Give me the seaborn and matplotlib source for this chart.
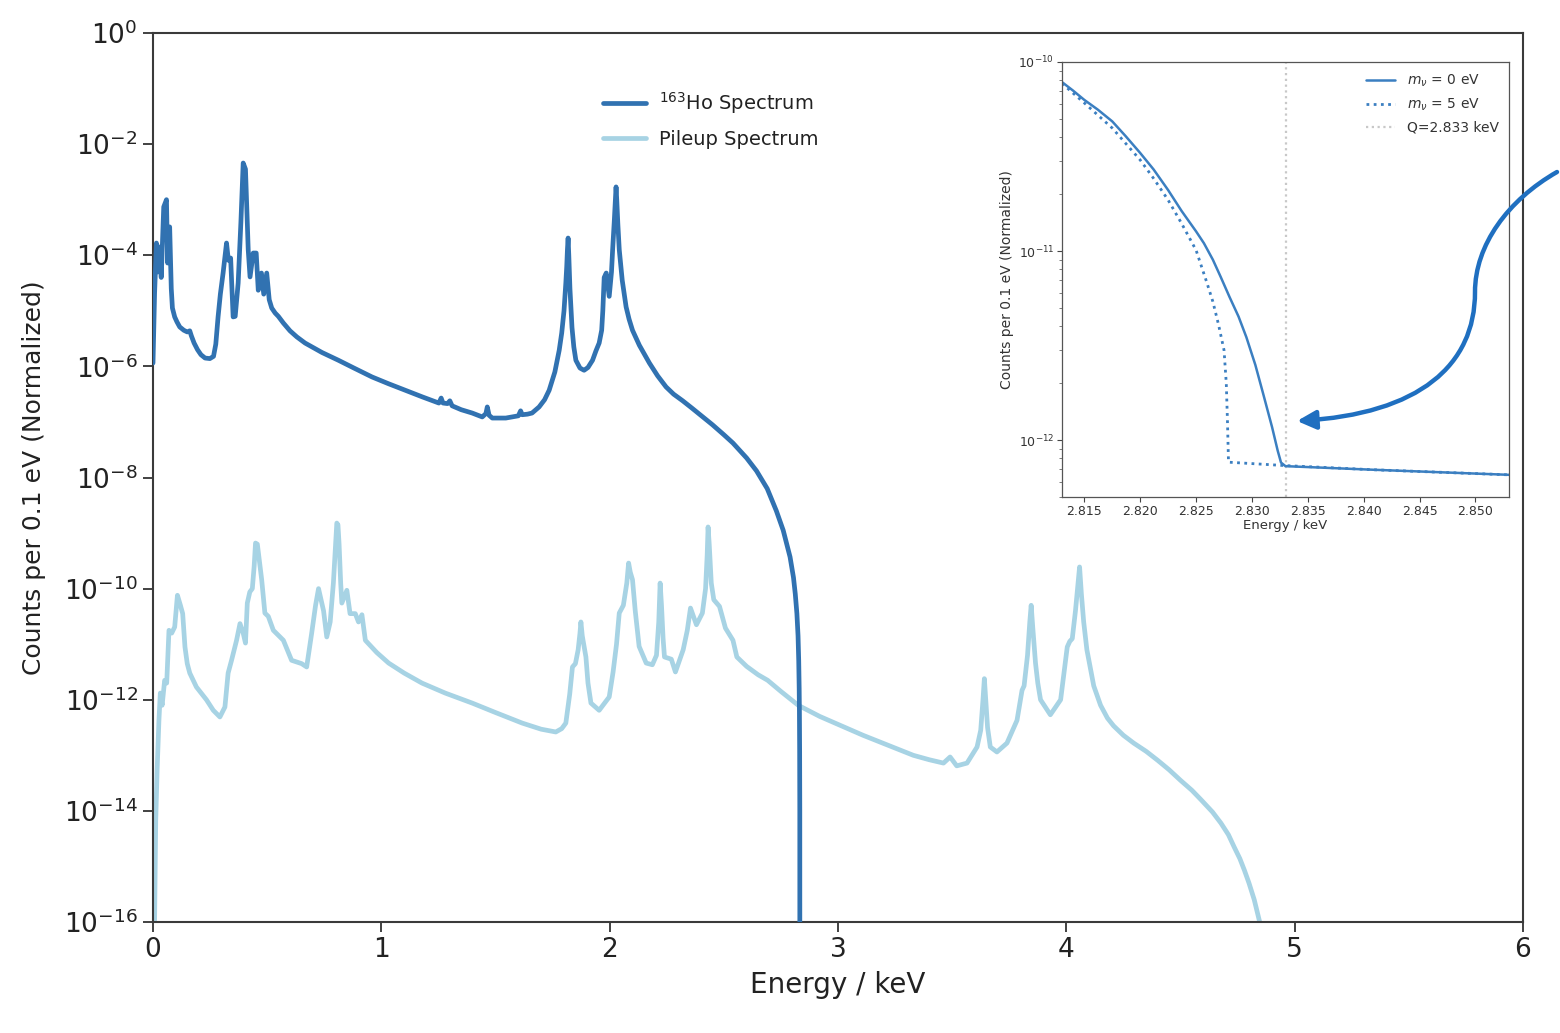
import numpy as np
import pandas as pd
import matplotlib
matplotlib.use("Agg")
import matplotlib.pyplot as plt
import matplotlib.ticker as mticker
import seaborn as sns
from matplotlib.path import Path
from matplotlib.patches import FancyArrowPatch

# ---------------- data ----------------
ho_energy_kev = [0.0, 0.007, 0.015, 0.022, 0.029, 0.036, 0.047, 0.059, 0.064, 0.073,
                 0.080, 0.085, 0.095, 0.105, 0.117, 0.135, 0.150, 0.161, 0.168, 0.180,
                 0.195, 0.210, 0.228, 0.249, 0.265, 0.275, 0.285, 0.295,
                 0.307, 0.322, 0.330, 0.340, 0.351, 0.360, 0.373, 0.385, 0.395, 0.405,
                 0.417, 0.425, 0.439, 0.452, 0.461, 0.475, 0.485, 0.498, 0.509, 0.520,
                 0.535, 0.549, 0.571, 0.600, 0.630, 0.666, 0.740, 0.812, 0.880, 0.959,
                 1.030, 1.105, 1.180, 1.252, 1.262, 1.270, 1.290, 1.300, 1.310, 1.350,
                 1.398, 1.442, 1.458, 1.464, 1.472, 1.486, 1.545, 1.600, 1.610, 1.617,
                 1.640, 1.660, 1.691, 1.715, 1.735, 1.760, 1.779, 1.790, 1.800, 1.808,
                 1.812, 1.815, 1.818, 1.821, 1.826, 1.835, 1.843, 1.852, 1.870, 1.888,
                 1.905, 1.925, 1.940, 1.954, 1.965, 1.970, 1.976, 1.985, 1.998, 2.008,
                 2.013, 2.020, 2.025, 2.028, 2.031, 2.036, 2.042, 2.055, 2.072, 2.085,
                 2.100, 2.130, 2.174, 2.210, 2.247, 2.280, 2.320, 2.360, 2.393, 2.450,
                 2.500, 2.540, 2.600, 2.643, 2.690, 2.730, 2.760, 2.790, 2.805, 2.813,
                 2.820, 2.825, 2.828, 2.830, 2.831, 2.832, 2.8327, 2.833]
ho_log10_counts = [-5.94, -4.68, -3.78, -4.30, -3.85, -4.40, -3.13, -3.00, -4.14, -3.49,
                   -4.60, -4.95, -5.11, -5.20, -5.29, -5.35, -5.38, -5.36, -5.45, -5.58,
                   -5.70, -5.79, -5.85, -5.86, -5.82, -5.60, -5.11, -4.70,
                   -4.32, -3.78, -4.09, -4.05, -5.11, -5.10, -4.50, -3.40, -2.34, -2.45,
                   -3.90, -4.39, -3.96, -3.96, -4.63, -4.32, -4.70, -4.32, -4.80, -4.95,
                   -5.04, -5.10, -5.22, -5.36, -5.47, -5.58, -5.75, -5.89, -6.03, -6.19,
                   -6.31, -6.43, -6.55, -6.66, -6.57, -6.66, -6.67, -6.62, -6.71, -6.78,
                   -6.84, -6.91, -6.85, -6.73, -6.88, -6.93, -6.93, -6.89, -6.80, -6.87,
                   -6.86, -6.84, -6.73, -6.60, -6.43, -6.10, -5.71, -5.40, -5.00, -4.50,
                   -4.20, -3.90, -3.69, -4.00, -4.60, -5.30, -5.65, -5.89, -6.03, -6.07,
                   -6.02, -5.89, -5.72, -5.58, -5.35, -5.00, -4.40, -4.32, -4.74, -4.30,
                   -3.90, -3.40, -3.00, -2.77, -3.00, -3.45, -3.90, -4.45, -4.93, -5.15,
                   -5.35, -5.62, -5.94, -6.17, -6.37, -6.50, -6.62, -6.75, -6.86, -7.05,
                   -7.23, -7.38, -7.65, -7.88, -8.20, -8.60, -8.95, -9.43, -9.80, -10.10,
                   -10.45, -10.85, -11.30, -11.80, -12.20, -12.90, -14.00, -20.0]

pileup_energy_kev = [0.0, 0.007, 0.012, 0.018, 0.026, 0.032, 0.040, 0.051, 0.060, 0.070,
                     0.082, 0.095, 0.107, 0.120, 0.130, 0.140, 0.150, 0.161, 0.190, 0.234,
                     0.264, 0.293, 0.315, 0.329, 0.344, 0.366, 0.381, 0.395, 0.405, 0.413,
                     0.424, 0.435, 0.443, 0.449, 0.457, 0.466, 0.476, 0.490, 0.505, 0.527,
                     0.571, 0.607, 0.651, 0.673, 0.695, 0.712, 0.725, 0.747, 0.761, 0.776,
                     0.790, 0.800, 0.805, 0.810, 0.815, 0.822, 0.827, 0.849, 0.863, 0.886,
                     0.900, 0.915, 0.930, 0.980, 1.032, 1.100, 1.178, 1.280, 1.398, 1.500,
                     1.617, 1.700, 1.764, 1.790, 1.808, 1.825, 1.837, 1.850, 1.862, 1.870,
                     1.874, 1.880, 1.896, 1.905, 1.918, 1.954, 1.998, 2.015, 2.030, 2.042,
                     2.060, 2.075, 2.083, 2.090, 2.100, 2.112, 2.129, 2.160, 2.187, 2.205,
                     2.215, 2.221, 2.227, 2.234, 2.240, 2.270, 2.288, 2.322, 2.340, 2.354,
                     2.380, 2.406, 2.420, 2.427, 2.431, 2.436, 2.445, 2.456, 2.481, 2.507,
                     2.540, 2.557, 2.600, 2.650, 2.692, 2.750, 2.826, 2.920, 3.026, 3.110,
                     3.196, 3.330, 3.400, 3.462, 3.491, 3.520, 3.565, 3.609, 3.625, 3.635,
                     3.641, 3.647, 3.655, 3.667, 3.696, 3.740, 3.784, 3.806, 3.815, 3.830,
                     3.840, 3.846, 3.853, 3.865, 3.875, 3.887, 3.930, 3.975, 4.004, 4.015,
                     4.026, 4.040, 4.050, 4.058, 4.066, 4.076, 4.090, 4.106, 4.120, 4.150,
                     4.180, 4.207, 4.250, 4.295, 4.350, 4.400, 4.450, 4.500, 4.550, 4.590,
                     4.640, 4.677, 4.710, 4.735, 4.760, 4.780, 4.800, 4.823, 4.845, 4.870]
pileup_log10_counts = [-16.5, -15.97, -14.17, -13.27, -12.37, -11.88, -12.10, -11.65, -11.70, -10.75,
                       -10.80, -10.69, -10.12, -10.30, -10.45, -11.05, -11.35, -11.52, -11.77, -12.00,
                       -12.19, -12.31, -12.13, -11.52, -11.29, -10.93, -10.63, -10.80, -10.98, -10.26,
                       -10.06, -10.00, -9.60, -9.18, -9.20, -9.50, -9.84, -10.44, -10.50, -10.75,
                       -10.93, -11.29, -11.35, -11.41, -10.80, -10.30, -10.00, -10.40, -10.87, -10.60,
                       -9.90, -9.20, -8.82, -8.85, -9.20, -9.90, -10.26, -10.03, -10.45, -10.45,
                       -10.60, -10.47, -10.93, -11.15, -11.34, -11.52, -11.70, -11.88, -12.06, -12.23,
                       -12.42, -12.53, -12.58, -12.52, -12.42, -11.90, -11.41, -11.35, -11.10, -10.80,
                       -10.60, -10.85, -11.23, -11.70, -12.06, -12.19, -11.95, -11.50, -11.00, -10.44,
                       -10.30, -9.90, -9.54, -9.70, -9.84, -10.40, -11.04, -11.34, -11.37, -11.20,
                       -10.60, -9.90, -10.30, -10.90, -11.23, -11.27, -11.50, -11.10, -10.75, -10.35,
                       -10.65, -10.44, -10.00, -9.40, -8.89, -9.20, -9.90, -10.20, -10.32, -10.71,
                       -10.93, -11.23, -11.40, -11.55, -11.65, -11.85, -12.10, -12.30, -12.49, -12.64,
                       -12.78, -13.00, -13.08, -13.14, -13.03, -13.19, -13.14, -12.85, -12.55, -12.00,
                       -11.62, -12.00, -12.50, -12.85, -12.94, -12.78, -12.37, -11.83, -11.75, -11.20,
                       -10.60, -10.30, -10.70, -11.34, -11.70, -12.00, -12.27, -12.00, -11.05, -10.95,
                       -10.90, -10.40, -9.95, -9.61, -10.10, -10.60, -11.10, -11.45, -11.75, -12.10,
                       -12.33, -12.47, -12.64, -12.78, -12.93, -13.09, -13.26, -13.45, -13.63, -13.80,
                       -14.02, -14.22, -14.43, -14.65, -14.86, -15.07, -15.30, -15.60, -15.97, -16.40]

inset_energy_m0 = [2.8130, 2.8140, 2.8150, 2.8162, 2.8175, 2.8187, 2.8200, 2.8212, 2.8225,
                   2.8237, 2.8250, 2.8257, 2.8265, 2.8272, 2.8280, 2.8288, 2.8295, 2.8303,
                   2.8310, 2.8318, 2.8323, 2.8326, 2.8330, 2.8408, 2.8530]
inset_counts_m0 = [7.83e-11, 7.05e-11, 6.3e-11, 5.6e-11, 4.85e-11, 4.05e-11, 3.3e-11, 2.7e-11,
                   2.1e-11, 1.63e-11, 1.27e-11, 1.1e-11, 9.0e-12, 7.3e-12, 5.7e-12, 4.5e-12,
                   3.5e-12, 2.5e-12, 1.76e-12, 1.17e-12, 8.8e-13, 7.6e-13, 7.28e-13, 6.97e-13,
                   6.55e-13]
inset_energy_m5 = [2.8130, 2.8150, 2.8175, 2.8200, 2.8212, 2.8225, 2.8237, 2.8250, 2.8260,
                   2.8265, 2.8270, 2.8275, 2.8277, 2.8278, 2.8279, 2.8328, 2.8408, 2.8530]
inset_counts_m5 = [7.7e-11, 6.07e-11, 4.47e-11, 3.03e-11, 2.42e-11, 1.86e-11, 1.4e-11, 1.01e-11,
                   6.7e-12, 5.4e-12, 4.1e-12, 2.99e-12, 2.0e-12, 1.3e-12, 7.64e-13, 7.34e-13,
                   6.97e-13, 6.55e-13]
q_value_kev = 2.833

main_xticks = [0, 1, 2, 3, 4, 5, 6]
main_ytick_exponents = [0, -2, -4, -6, -8, -10, -12, -14, -16]
inset_xticks = [2.815, 2.820, 2.825, 2.830, 2.835, 2.840, 2.845, 2.850]
inset_ytick_exponents = [-12, -11, -10]

HO_COLOR = "#3172b1"
PILEUP_COLOR = "#a7d3e4"
INSET_COLOR = "#3b7fc1"
ARROW_COLOR = "#1f6fc0"

# ---------------- style ----------------
sns.set_theme(style="ticks")
plt.rcParams['font.family'] = ['DejaVu Sans']
plt.rcParams['mathtext.fontset'] = 'dejavusans'

W, H = 1560, 1033
fig = plt.figure(figsize=(W / 100, H / 100), dpi=100)
fig.patch.set_facecolor("white")

# ---------------- main axes ----------------
ax = fig.add_axes([153 / W, 1 - 922 / H, (1523 - 153) / W, (922 - 33) / H])

df_ho = pd.DataFrame({"Energy": ho_energy_kev, "Counts": 10.0 ** np.array(ho_log10_counts)})
df_pu = pd.DataFrame({"Energy": pileup_energy_kev, "Counts": 10.0 ** np.array(pileup_log10_counts)})

sns.lineplot(data=df_ho, x="Energy", y="Counts", ax=ax, color=HO_COLOR, linewidth=3.4,
             estimator=None, sort=False, label=r"$^{163}$Ho Spectrum", zorder=3)
sns.lineplot(data=df_pu, x="Energy", y="Counts", ax=ax, color=PILEUP_COLOR, linewidth=3.4,
             estimator=None, sort=False, label="Pileup Spectrum", zorder=2)

ax.set_yscale("log")
ax.set_xlim(0, 6)
ax.set_ylim(1e-16, 1)
ax.set_xticks(main_xticks)
ax.set_xticklabels([str(t) for t in main_xticks])
ax.set_yticks([10.0 ** e for e in main_ytick_exponents])
ax.yaxis.set_major_formatter(mticker.LogFormatterSciNotation())
ax.yaxis.set_minor_locator(mticker.NullLocator())
ax.tick_params(axis="both", which="major", labelsize=19, length=7, width=1.3,
               color="#333333", labelcolor="#222222", direction="out", pad=4)
for s in ax.spines.values():
    s.set_color("#3a3a3a")
    s.set_linewidth(1.5)

ax.set_xlabel("Energy / keV", fontsize=20, color="#222222")
ax.set_ylabel("Counts per 0.1 eV (Normalized)", fontsize=18, color="#222222")
ax.xaxis.set_label_coords(0.5, -0.055)
ax.yaxis.set_label_coords(-0.078, 0.5)

leg = ax.legend(loc="upper left", bbox_to_anchor=(0.3226, 0.945), borderaxespad=0,
                frameon=False, fontsize=14, handlelength=2.2, handletextpad=0.7,
                labelspacing=0.75)
for t in leg.get_texts():
    t.set_color("#222222")

# ---------------- inset axes ----------------
axi = fig.add_axes([1062 / W, 1 - 497 / H, (1509 - 1062) / W, (497 - 62) / H])
df_m0 = pd.DataFrame({"Energy": inset_energy_m0, "Counts": inset_counts_m0})
df_m5 = pd.DataFrame({"Energy": inset_energy_m5, "Counts": inset_counts_m5})
sns.lineplot(data=df_m0, x="Energy", y="Counts", ax=axi, color=INSET_COLOR, linewidth=1.8,
             estimator=None, sort=False, label=r"$m_\nu$ = 0 eV")
sns.lineplot(data=df_m5, x="Energy", y="Counts", ax=axi, color=INSET_COLOR, linewidth=2.0,
             linestyle=(0, (1, 1.6)), estimator=None, sort=False, label=r"$m_\nu$ = 5 eV")
axi.axvline(q_value_kev, color="#c8c8c8", linestyle=(0, (1, 1.6)), linewidth=1.6,
            label="Q=2.833 keV", zorder=0)
axi.set_yscale("log")
axi.set_xlim(2.813, 2.853)
axi.set_ylim(5e-13, 1e-10)
axi.set_xticks(inset_xticks)
axi.set_xticklabels([f"{t:.3f}" for t in inset_xticks])
axi.set_yticks([10.0 ** e for e in inset_ytick_exponents])
axi.set_yticklabels([rf"$10^{{{e}}}$" for e in inset_ytick_exponents])
axi.yaxis.set_minor_locator(mticker.FixedLocator(
    [m * 10.0 ** e for e in (-13, -12, -11) for m in range(2, 10) if 5e-13 <= m * 10.0 ** e < 1e-10]))
axi.yaxis.set_minor_formatter(mticker.NullFormatter())
axi.tick_params(axis="both", which="major", labelsize=9, length=3.5, width=0.8,
                color="#444444", labelcolor="#333333", pad=2)
axi.tick_params(axis="y", which="minor", length=2, width=0.6, color="#666666")
for s in axi.spines.values():
    s.set_color("#555555")
    s.set_linewidth(0.9)
axi.set_xlabel("Energy / keV", fontsize=9.5, color="#333333", labelpad=1)
axi.set_ylabel("Counts per 0.1 eV (Normalized)", fontsize=10, color="#333333", labelpad=3)
li = axi.legend(loc="upper right", frameon=False, fontsize=10, handlelength=2.1,
                handletextpad=0.8, labelspacing=0.55, borderaxespad=0.35)
for t in li.get_texts():
    t.set_color("#333333")

# ---------------- curved annotation arrow ----------------
def fp(px, py):
    return (px / W, 1 - py / H)

verts = [fp(1557, 172), fp(1508, 200), fp(1475, 245), fp(1475, 292),
         fp(1475, 365), fp(1420, 414), fp(1297, 421)]
codes = [Path.MOVETO, Path.CURVE4, Path.CURVE4, Path.CURVE4,
         Path.CURVE4, Path.CURVE4, Path.CURVE4]
arrow = FancyArrowPatch(path=Path(verts, codes), arrowstyle="-|>", mutation_scale=28,
                        linewidth=3.2, color=ARROW_COLOR, shrinkA=0, shrinkB=0,
                        transform=fig.transFigure)
fig.add_artist(arrow)

fig.savefig("out.png", dpi=100, facecolor="white")
